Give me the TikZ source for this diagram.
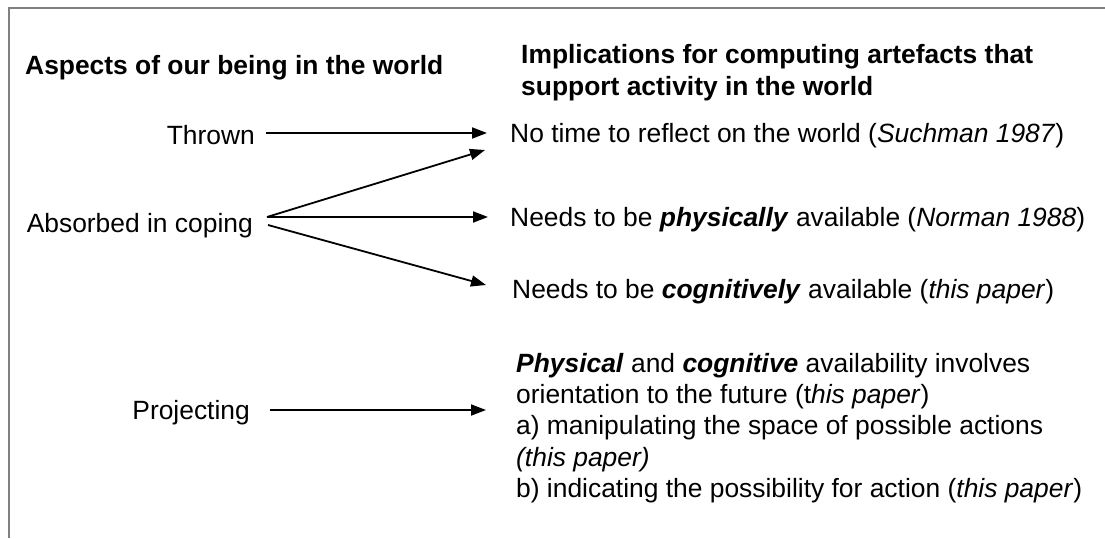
\documentclass[tikz,border=0pt]{standalone}
\usepackage{fontspec}
\setmainfont{Liberation Sans}
\usetikzlibrary{arrows.meta}

\begin{document}
\begin{tikzpicture}[x=1pt,y=-1pt,
	txt/.style={inner sep=0pt,font=\fontsize{26.4}{31.3}\selectfont},
	head/.style={inner sep=0pt,font=\fontsize{26.4}{32}\selectfont\bfseries},
	arr/.style={line width=1.8pt,-{Triangle[length=15pt,width=11pt]}}]
\useasboundingbox (0,0) rectangle (1105,538);
\draw[line width=2.5pt,draw=gray] (9,538) -- (9,8) -- (1105,8);

% column headings
\node[head,anchor=base west] (aspects) at (25,74) {Aspects of our being in the world};
\node[head,anchor=north west,align=left] (implications) at (521,44) {Implications for computing artefacts that\\support activity in the world};

% left column
\node[txt,anchor=base east] (thrown) at (255,144) {Thrown};
\node[txt,anchor=base east] (absorbed) at (253,232) {Absorbed in coping};
\node[txt,anchor=base east] (projecting) at (250,419) {Projecting};

% right column
\node[txt,anchor=base west] (notime) at (510,142) {No time to reflect on the world (\textit{Suchman 1987})};
\node[txt,anchor=base west] (physically) at (510,226) {Needs to be \textbf{\textit{physically}} available (\textit{Norman 1988})};
\node[txt,anchor=base west] (cognitively) at (512,298) {Needs to be \textbf{\textit{cognitively}} available (\textit{this paper})};
\node[txt,anchor=north west,align=left] (future) at (516,353) {\textbf{\textit{Physical}} and \textbf{\textit{cognitive}} availability involves\\orientation to the future (t\textit{his paper})\\a) manipulating the space of possible actions\\\textit{(this paper)}\\b) indicating the possibility for action (\textit{this paper})};

\draw[arr] ([xshift=11pt,yshift=11pt]thrown.base east) -- ([xshift=-23pt,yshift=9pt]notime.base west);
\draw[arr] ([xshift=14pt,yshift=15pt]absorbed.base east) -- ([xshift=-25pt,yshift=-8pt]notime.base west);
\draw[arr] ([xshift=14pt,yshift=15pt]absorbed.base east) -- ([xshift=-22pt,yshift=9pt]physically.base west);
\draw[arr] ([xshift=15pt,yshift=7pt]absorbed.base east) -- ([xshift=-26pt,yshift=13pt]cognitively.base west);
\draw[arr] ([xshift=20pt,yshift=9pt]projecting.base east) -- ([xshift=-30pt,yshift=-57pt]future.north west);
\end{tikzpicture}
\end{document}
